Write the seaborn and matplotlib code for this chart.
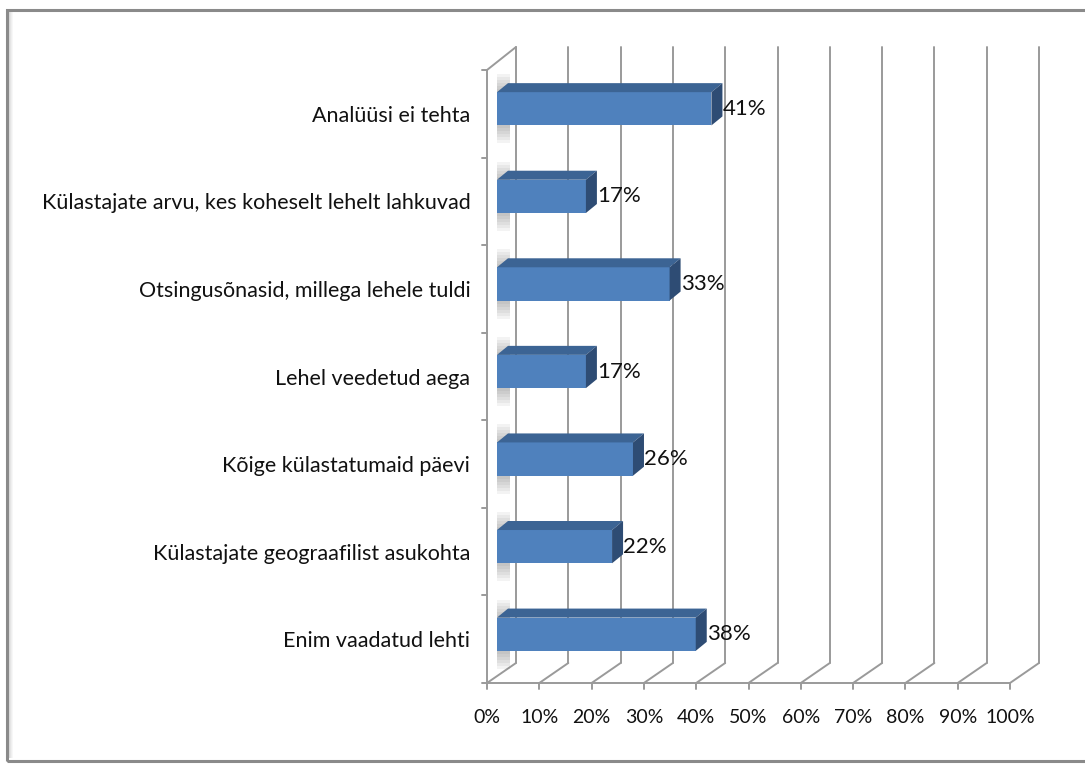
import matplotlib
matplotlib.use("Agg")
import matplotlib.pyplot as plt
import seaborn as sns
import pandas as pd
from matplotlib.patches import Polygon, Rectangle
from matplotlib.lines import Line2D

categories = [
    "Analüüsi ei tehta",
    "Külastajate arvu, kes koheselt lehelt lahkuvad",
    "Otsingusõnasid, millega lehele tuldi",
    "Lehel veedetud aega",
    "Kõige külastatumaid päevi",
    "Külastajate geograafilist asukohta",
    "Enim vaadatud lehti",
]
values = [41, 17, 33, 17, 26, 22, 38]
tick_values = list(range(0, 101, 10))
tick_labels = [f"{t}%" for t in tick_values]

sns.set_style("white")
plt.rcParams["font.family"] = ["Lato", "DejaVu Sans"]

W, H = 1085, 765
fig = plt.figure(figsize=(W / 100, H / 100), dpi=100)

# front plane of the 3-D box, in pixels
L, R, T, B = 487, 1010, 70, 683
ax = fig.add_axes([L / W, 1 - B / H, (R - L) / W, (B - T) / H])

n = len(categories)
XMAX = 100
y_lo, y_hi = n - 0.5, -0.5


def px_x(p):
    return p * XMAX / (R - L)


def px_up(p):
    # upward screen pixels -> data y (axis is inverted)
    return -p * n / (B - T)


df = pd.DataFrame({"cat": categories, "val": values})
sns.barplot(data=df, x="val", y="cat", orient="h", color="#4F81BD",
            width=0.38, ax=ax, saturation=1, zorder=5, linewidth=0)
ax.set_xlim(0, XMAX)
ax.set_ylim(y_lo, y_hi)

# depth settings (pixels)
BACK_DX, BACK_DY = 29, 20
BAR_DX, BAR_DY = 10, 5
DEP_DX, DEP_DY = 11, 9

grid_c = "#9a9a9a"
glw = 1.4

# back wall gridlines and floor diagonals
for t in tick_values:
    ax.add_line(Line2D([t + px_x(BACK_DX)] * 2,
                       [y_lo + px_up(BACK_DY), y_hi + px_up(23)],
                       color=grid_c, lw=glw, clip_on=False, zorder=1))
    ax.add_line(Line2D([t, t + px_x(BACK_DX)], [y_lo, y_lo + px_up(BACK_DY)],
                       color=grid_c, lw=glw, clip_on=False, zorder=1))
    ax.add_line(Line2D([t, t], [y_lo, y_lo - px_up(6)],
                       color=grid_c, lw=glw, clip_on=False, zorder=1))
# front floor edge and left wall
ax.add_line(Line2D([0, XMAX], [y_lo, y_lo], color=grid_c, lw=glw,
                   clip_on=False, zorder=1))
ax.add_line(Line2D([0, 0], [y_lo, y_hi], color=grid_c, lw=glw,
                   clip_on=False, zorder=1))
ax.add_line(Line2D([0, px_x(BACK_DX)], [y_hi, y_hi + px_up(23)],
                   color=grid_c, lw=glw, clip_on=False, zorder=1))
for k in range(n + 1):
    yb = k - 0.5
    ax.add_line(Line2D([-px_x(5), 0], [yb, yb], color=grid_c, lw=glw,
                       clip_on=False, zorder=1))

# shift bars into the middle of the box and add top / side faces
for i, p in enumerate(ax.patches[:n]):
    p.set_x(p.get_x() + px_x(BAR_DX))
    p.set_y(p.get_y() + px_up(BAR_DY))
    x0, x1 = p.get_x(), p.get_x() + p.get_width()
    yt, yb = p.get_y(), p.get_y() + p.get_height()
    ddx, ddy = px_x(DEP_DX), px_up(DEP_DY)
    # soft shadow cast on the left wall, darker close to the bar
    sx0, sx1 = px_x(BAR_DX), px_x(BAR_DX + 13)
    for k in range(6):
        ext = px_up(3 * (k + 1))
        ax.add_patch(Rectangle((sx0, yt + ext), sx1 - sx0,
                               (yb - ext) - (yt + ext),
                               facecolor="#606060", alpha=0.07, lw=0,
                               zorder=2, clip_on=False))
    ax.add_patch(Polygon([(x0, yt), (x1, yt), (x1 + ddx, yt + ddy),
                          (x0 + ddx, yt + ddy)], closed=True,
                         facecolor="#3C6494", edgecolor="none", zorder=6,
                         clip_on=False))
    ax.add_patch(Polygon([(x1, yt), (x1, yb), (x1 + ddx, yb + ddy),
                          (x1 + ddx, yt + ddy)], closed=True,
                         facecolor="#2E4C74", edgecolor="none", zorder=6,
                         clip_on=False))
    ax.text(x1 + px_x(11), (yt + yb) / 2, f"{values[i]}%", ha="left",
            va="center", fontsize=16, color="#111111", zorder=7)

ax.set_xticks(tick_values, tick_labels)
ax.tick_params(axis="x", length=0, pad=19, labelsize=14,
               labelcolor="#111111")
ax.tick_params(axis="y", length=0, pad=12, labelsize=15.5,
               labelcolor="#111111")
ax.set_xlabel("")
ax.set_ylabel("")
for s in ax.spines.values():
    s.set_visible(False)
ax.set_facecolor("none")

# chart frame with a soft inner shadow on the left
frame = Rectangle((7 / W, 1 - 761 / H), (1090 - 7) / W, (761 - 10) / H,
                  transform=fig.transFigure, fill=False, edgecolor="#8a8a8a",
                  lw=2.2, zorder=0)
fig.patches.append(frame)
for j, a in enumerate([0.35, 0.25, 0.15, 0.08]):
    fig.patches.append(Rectangle(((9 + j) / W, 1 - 758 / H), 1 / W,
                                 (758 - 12) / H, transform=fig.transFigure,
                                 facecolor="#9a9a9a", alpha=a, lw=0))

fig.savefig("out.png", dpi=100)
